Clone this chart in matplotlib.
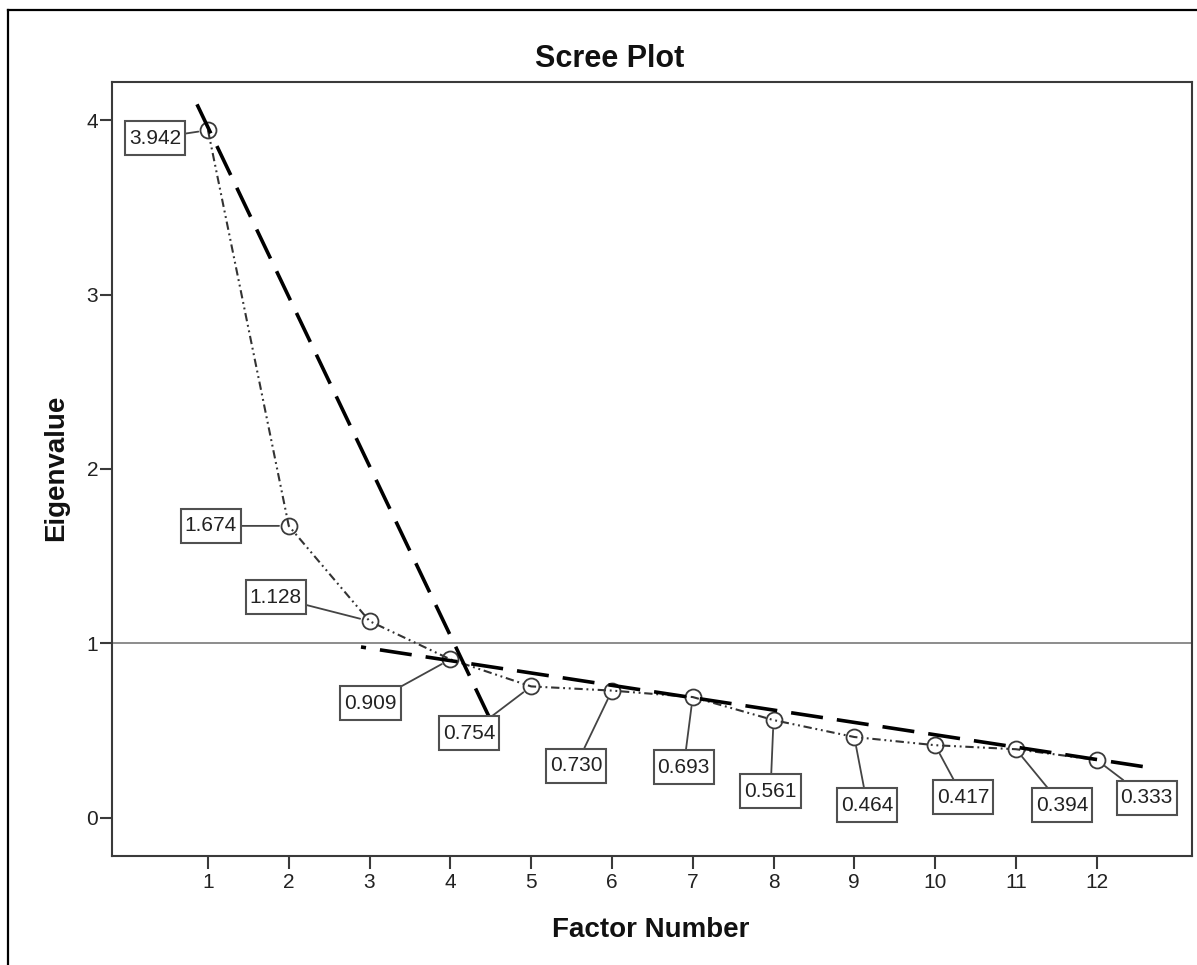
import matplotlib
matplotlib.use("Agg")
import matplotlib.pyplot as plt
from matplotlib.lines import Line2D
from matplotlib.path import Path

plt.rcParams['font.family'] = ['Liberation Sans', 'DejaVu Sans']

# Eigenvalues of the factor solution
factors = [1, 2, 3, 4, 5, 6, 7, 8, 9, 10, 11, 12]
eigenvalues = [3.942, 1.674, 1.128, 0.909, 0.754, 0.730, 0.693, 0.561,
               0.464, 0.417, 0.394, 0.333]
value_labels = ["3.942", "1.674", "1.128", "0.909", "0.754", "0.730", "0.693",
                "0.561", "0.464", "0.417", "0.394", "0.333"]

# Hand-drawn elbow guide lines (endpoints in data units)
steep_x = [0.864, 4.515]
steep_y = [4.09, 0.545]
flat_x = [2.894, 12.61]
flat_y = [0.98, 0.292]

# Kaiser criterion
kaiser = 1.0

x_ticks = [1, 2, 3, 4, 5, 6, 7, 8, 9, 10, 11, 12]
y_ticks = [0, 1, 2, 3, 4]

# label box offsets from each point, in pixels
label_offsets = [(-53, -8), (-78, 0), (-94, 24), (-80, -44), (-62, -47),
                 (-36, -75), (-9, -70), (-3, -71), (13, -68), (28, -52),
                 (46, -56), (50, -38)]


class PadBox:
    """Rectangular label box with separate horizontal/vertical padding."""

    def __init__(self, padx, pady):
        self.padx = padx
        self.pady = pady

    def __call__(self, x0, y0, width, height, mutation_size):
        px = self.padx * mutation_size
        py = self.pady * mutation_size
        x0, y0 = x0 - px, y0 - py
        x1, y1 = x0 + width + 2 * px, y0 + height + 2 * py
        return Path([(x0, y0), (x1, y0), (x1, y1), (x0, y1), (x0, y0)],
                    closed=True)


W, H = 1197, 965
fig = plt.figure(figsize=(W / 100, H / 100), dpi=100)
fig.patch.set_facecolor('white')

ax = fig.add_axes([112 / W, (H - 856) / H, (1192 - 112) / W, (856 - 82) / H])
ax.set_xlim(-0.188, 13.18)
ax.set_ylim(-0.218, 4.218)

for s in ax.spines.values():
    s.set_color('#3a3a3a')
    s.set_linewidth(1.5)

ax.set_xticks(x_ticks)
ax.set_yticks(y_ticks)
ax.tick_params(axis='x', direction='out', length=9, width=1.5, color='#3a3a3a',
               labelsize=15, labelcolor='#222222', pad=3)
ax.tick_params(axis='y', direction='out', length=9, width=1.5, color='#3a3a3a',
               labelsize=15, labelcolor='#222222', pad=1)

# reference line at eigenvalue 1
ax.axhline(kaiser, color='#6e6e6e', lw=1.1, zorder=1)

# scree line
ax.plot(factors, eigenvalues, color='#333333', lw=1.5,
        linestyle=(0, (4.0, 1.8, 0.9, 1.8, 0.9, 1.8)),
        marker='o', markersize=11.5, markerfacecolor='none',
        markeredgecolor='#3a3a3a', markeredgewidth=1.3, zorder=3)

# elbow guide lines
ax.plot(steep_x, steep_y, color='black', lw=2.6, linestyle=(0, (8.9, 3.9)),
        zorder=4, dash_capstyle='butt')
ax.plot(flat_x, flat_y, color='black', lw=2.6, linestyle=(7.5, (8.9, 3.9)),
        zorder=4, dash_capstyle='butt')

# value labels with leader lines
for x, y, txt, off in zip(factors, eigenvalues, value_labels, label_offsets):
    ax.annotate(txt, xy=(x, y), xytext=off, textcoords='offset pixels',
                ha='center', va='center', fontsize=15, color='#222222',
                bbox=dict(boxstyle=PadBox(0.19, 0.36), fc='white',
                          ec='#505050', lw=1.5),
                arrowprops=dict(arrowstyle='-', color='#444444', lw=1.3,
                                shrinkA=0, shrinkB=7),
                zorder=5)

# titles
fig.text(610 / W, 1 - 67 / H, "Scree Plot", ha='center', va='baseline',
         fontsize=22, fontweight='bold', color='#111111')
fig.text(651 / W, 1 - 937 / H, "Factor Number", ha='center', va='baseline',
         fontsize=20, fontweight='bold', color='#111111')
fig.text(56 / W, 1 - 468 / H, "Eigenvalue", ha='center', va='center',
         rotation=90, fontsize=20, fontweight='bold', color='#111111')

# outer frame (left and top edges)
fig.add_artist(Line2D([8 / W, 8 / W], [0, 1 - 10 / H], transform=fig.transFigure,
                      color='black', lw=1.6))
fig.add_artist(Line2D([8 / W, 1], [1 - 10 / H, 1 - 10 / H], transform=fig.transFigure,
                      color='black', lw=1.6))

fig.savefig('out.png', dpi=100)
